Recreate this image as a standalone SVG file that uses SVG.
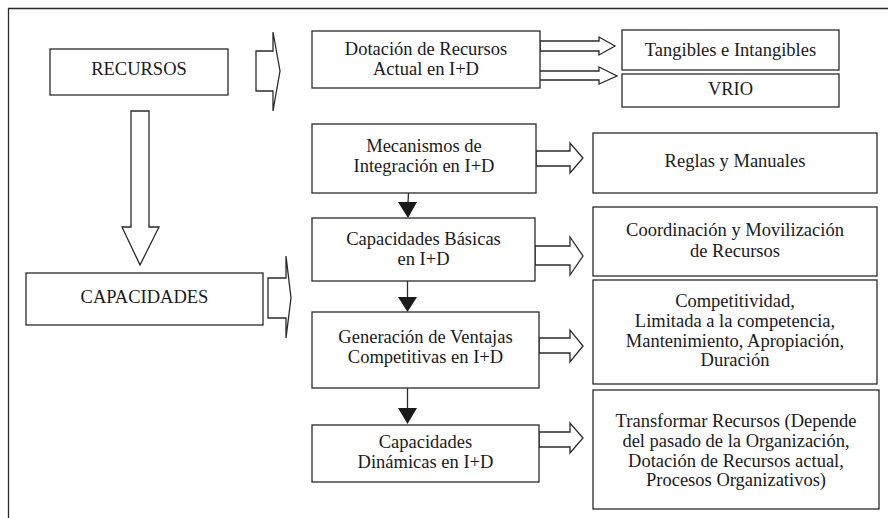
<svg xmlns="http://www.w3.org/2000/svg" width="888" height="518" viewBox="0 0 888 518">
<style>
.box{fill:#fff;stroke:#2a2a2a;stroke-width:1.3}
.blk{fill:#fff;stroke:#2a2a2a;stroke-width:1.3;stroke-linejoin:miter}
.ln{stroke:#2a2a2a;stroke-width:1.3;fill:none}
.tri{fill:#1a1a1a;stroke:none}
text{font-family:"Liberation Serif","Times New Roman",serif;font-size:18.5px;fill:#1a1a1a;text-anchor:middle}
</style>
<rect width="888" height="518" fill="#fff"/>
<g id="frame">
<path class="ln" d="M8.5,518 V8.5 H888"/>
</g>
<g id="connectors">
<polygon class="blk" points="256,51 273,51 273,32 280,71 273,111 273,91 256,91"/>
<polygon class="blk" points="268,278 286,278 286,256 291,298 286,338 286,318 268,318"/>
<polygon class="blk" points="131,111 149,111 149,227 159,227 140,265 122,227 131,227"/>
<polygon class="blk" points="540,41 599,41 599,37 615,46 599,55 599,51 540,51"/>
<polygon class="blk" points="539,71 599,71 599,67 617,76 599,84 599,80 539,80"/>
<polygon class="blk" points="536,151 570,151 570,143 583,158 570,173 570,166 536,166"/>
<polygon class="blk" points="535,246 570,246 570,237 583,256 570,275 570,265 535,265"/>
<polygon class="blk" points="539,338 570,338 570,330 583,346 570,362 570,353 539,353"/>
<polygon class="blk" points="539,432 570,432 570,423 583,438 570,453 570,447 539,447"/>
<path class="ln" d="M408.5,193 L408,203"/>
<polygon class="tri" points="398,202 417,202 408,218"/>
<path class="ln" d="M407.5,281 V298"/>
<polygon class="tri" points="398,297 417,297 407.5,312"/>
<path class="ln" d="M407.5,388 V409"/>
<polygon class="tri" points="398,408 417,408 407.5,424"/>
</g>
<g id="recursos">
<rect class="box" x="50" y="49" width="178" height="46"/>
<text x="139" y="75">RECURSOS</text>
</g>
<g id="capacidades">
<rect class="box" x="26" y="273" width="237" height="52"/>
<text x="144.5" y="303">CAPACIDADES</text>
</g>
<g id="dotacion">
<rect class="box" x="312" y="31" width="228" height="57"/>
<text x="426" y="55">Dotación de Recursos</text>
<text x="426" y="75">Actual en I+D</text>
</g>
<g id="tangibles">
<rect class="box" x="622" y="30" width="217" height="40"/>
<text x="730.5" y="56">Tangibles e Intangibles</text>
</g>
<g id="vrio">
<rect class="box" x="622" y="74" width="217" height="33"/>
<text x="730.5" y="95">VRIO</text>
</g>
<g id="mecanismos">
<rect class="box" x="312" y="124" width="224" height="69"/>
<text x="424" y="152">Mecanismos de</text>
<text x="424" y="172">Integración en I+D</text>
</g>
<g id="reglas">
<rect class="box" x="593" y="133" width="284" height="60"/>
<text x="735" y="167">Reglas y Manuales</text>
</g>
<g id="basicas">
<rect class="box" x="312" y="218" width="223" height="63"/>
<text x="423.5" y="245">Capacidades Básicas</text>
<text x="423.5" y="265">en I+D</text>
</g>
<g id="coordinacion">
<rect class="box" x="593" y="207" width="284" height="69"/>
<text x="735" y="236">Coordinación y Movilización</text>
<text x="735" y="257">de Recursos</text>
</g>
<g id="generacion">
<rect class="box" x="312" y="312" width="227" height="76"/>
<text x="425.5" y="343">Generación de Ventajas</text>
<text x="425.5" y="363">Competitivas en I+D</text>
</g>
<g id="competitividad">
<rect class="box" x="593" y="280" width="284" height="104"/>
<text x="735" y="307">Competitividad,</text>
<text x="735" y="327">Limitada a la competencia,</text>
<text x="735" y="347">Mantenimiento, Apropiación,</text>
<text x="735" y="366">Duración</text>
</g>
<g id="dinamicas">
<rect class="box" x="312" y="425" width="227" height="57"/>
<text x="425.5" y="448">Capacidades</text>
<text x="425.5" y="468">Dinámicas en I+D</text>
</g>
<g id="transformar">
<rect class="box" x="593" y="390" width="286" height="119"/>
<text x="736" y="427">Transformar Recursos (Depende</text>
<text x="736" y="447">del pasado de la Organización,</text>
<text x="736" y="467">Dotación de Recursos actual,</text>
<text x="736" y="486">Procesos Organizativos)</text>
</g>
</svg>
